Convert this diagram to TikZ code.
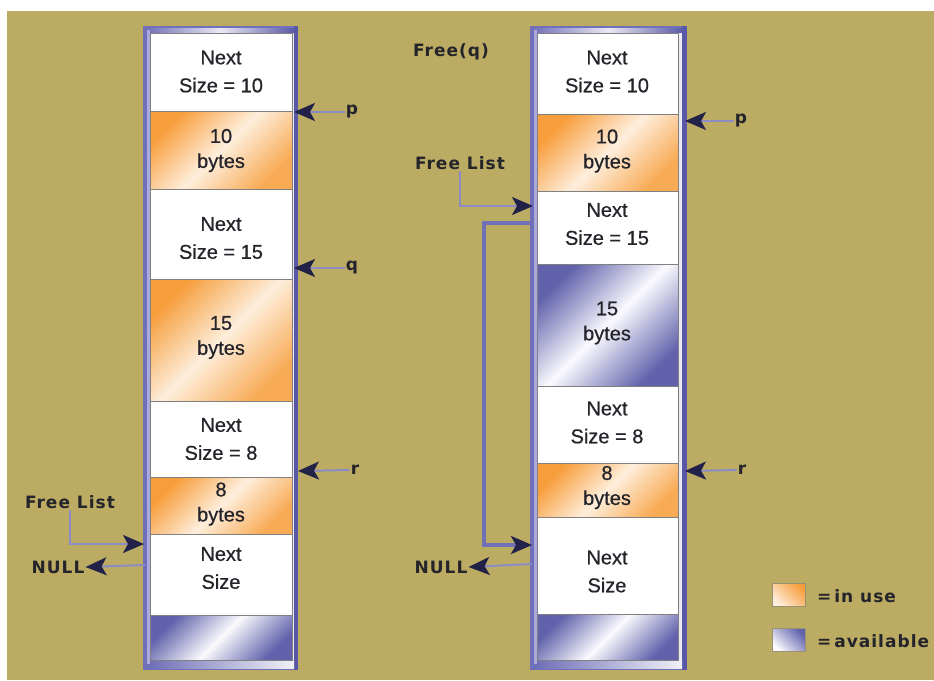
\documentclass[tikz,border=0pt]{standalone}
\usepackage{fontspec}
\setmainfont{Liberation Sans}
\newfontfamily\cellfam{Liberation Sans}[FakeBold=0.6]
\newfontfamily\lblfam{DejaVu Sans}[LetterSpace=6]
\usetikzlibrary{arrows.meta}
\newcommand\celltxt{\cellfam\fontsize{20}{28}\selectfont}
\newcommand\bytestxt{\cellfam\fontsize{20}{25}\selectfont}
\newcommand\lbltxt{\lblfam\bfseries\fontsize{17}{20}\selectfont}
\newcommand\legtxt{\lblfam\bfseries\fontsize{17}{20}\selectfont}
\definecolor{bg}{RGB}{187,171,99}
\definecolor{frameC}{RGB}{112,112,184}
\definecolor{frameD}{RGB}{88,88,166}
\definecolor{frameL}{RGB}{170,170,220}
\definecolor{orangeD}{RGB}{247,158,60}
\definecolor{orangeL}{RGB}{254,238,220}
\definecolor{purpD}{RGB}{98,98,172}
\definecolor{purpL}{RGB}{250,250,254}
\definecolor{ink}{RGB}{36,36,42}
\definecolor{arrowC}{RGB}{34,34,72}
\definecolor{shaftC}{RGB}{140,140,196}
\definecolor{sepC}{RGB}{128,128,128}
\tikzset{
  cellbox/.style={draw=sepC, line width=0.8pt, inner sep=0pt, outer sep=0pt, anchor=north west},
  freecell/.style={cellbox, fill=white},
  usedcell/.style={cellbox, left color=orangeD, right color=orangeD!85!orangeL, middle color=orangeL, shading angle=45},
  availcell/.style={cellbox, left color=purpD, right color=purpD, middle color=purpL, shading angle=45},
  celltext/.style={font=\celltxt, text=ink, align=center, inner sep=0pt},
  bytestext/.style={font=\bytestxt, text=ink, align=center, inner sep=0pt},
  lbl/.style={font=\lbltxt, text=ink, inner sep=1pt},
  ptr/.style={draw=shaftC, line width=2pt, -{Stealth[length=21pt,width=18pt,inset=5pt,color=arrowC]}},
  loopline/.style={draw=frameC, line width=3.5pt, -{Stealth[length=21pt,width=18pt,inset=5pt,color=arrowC]}},
  framebox/.style={fill=frameC, inner sep=0pt, outer sep=0pt, anchor=north west},
  legendsq/.style={draw=sepC!60!bg, line width=0.6pt, inner sep=0pt, anchor=north west, minimum width=33pt, minimum height=23pt}
}
\begin{document}
\begin{tikzpicture}[x=1pt,y=-1pt]
\useasboundingbox (0,0) rectangle (934,680);
\fill[white] (0,0) rectangle (934,680);
\fill[bg] (7,11) rectangle (934,680);

% ---------- left column frame ----------
\node[framebox, minimum width=155pt, minimum height=644pt] (frameA) at (143,26) {};
\shade[left color=frameC, right color=frameD, middle color=white!85!frameC] (146,28) rectangle (295,33);
\fill[frameL] (147,30) rectangle (150,664);
\fill[frameD] (294,26) rectangle (298,670);
\fill[white!85!frameC] (292,33) rectangle (294,662);
\shade[left color=frameC, right color=white!90!frameC] (150,661) rectangle (294,668);

\node[freecell,  minimum width=142pt, minimum height=78pt]  (L1) at (150,33) {};
\node[usedcell,  minimum width=142pt, minimum height=78pt]  (L2) at (150,111) {};
\node[freecell,  minimum width=142pt, minimum height=90pt]  (L3) at (150,189) {};
\node[usedcell,  minimum width=142pt, minimum height=122pt] (L4) at (150,279) {};
\node[freecell,  minimum width=142pt, minimum height=76pt]  (L5) at (150,401) {};
\node[usedcell,  minimum width=142pt, minimum height=57pt]  (L6) at (150,477) {};
\node[freecell,  minimum width=142pt, minimum height=81pt]  (L7) at (150,534) {};
\node[availcell, minimum width=142pt, minimum height=45pt]  (L8) at (150,615) {};

\node[celltext]  (tL1) at (221,71.5) {Next\\Size = 10};
\node[bytestext] (tL2) at (221,150.5) {10\\bytes};
\node[celltext]  (tL3) at (221,238) {Next\\Size = 15};
\node[bytestext] (tL4) at (221,337.5) {15\\bytes};
\node[celltext]  (tL5) at (221,439) {Next\\Size = 8};
\node[bytestext] (tL6) at (221,504) {8\\bytes};
\node[celltext]  (tL7) at (221,568) {Next\\Size};

% ---------- right column frame ----------
\node[framebox, minimum width=157pt, minimum height=644pt] (frameB) at (530,26) {};
\shade[left color=frameC, right color=frameD, middle color=white!85!frameC] (533,28) rectangle (684,33);
\fill[frameL] (534,30) rectangle (537,664);
\fill[frameD] (682,26) rectangle (687,670);
\fill[white!85!frameC] (678,33) rectangle (682,662);
\shade[left color=frameC, right color=white!90!frameC] (537,661) rectangle (682,668);

\node[freecell,  minimum width=141pt, minimum height=81pt]  (R1) at (537,33) {};
\node[usedcell,  minimum width=141pt, minimum height=77pt]  (R2) at (537,114) {};
\node[freecell,  minimum width=141pt, minimum height=73pt]  (R3) at (537,191) {};
\node[availcell, minimum width=141pt, minimum height=122pt] (R4) at (537,264) {};
\node[freecell,  minimum width=141pt, minimum height=77pt]  (R5) at (537,386) {};
\node[usedcell,  minimum width=141pt, minimum height=54pt]  (R6) at (537,463) {};
\node[freecell,  minimum width=141pt, minimum height=97pt]  (R7) at (537,517) {};
\node[availcell, minimum width=141pt, minimum height=46pt]  (R8) at (537,614) {};

\node[celltext]  (tR1) at (607,71.5) {Next\\Size = 10};
\node[bytestext] (tR2) at (607,151) {10\\bytes};
\node[celltext]  (tR3) at (607,224) {Next\\Size = 15};
\node[bytestext] (tR4) at (607,323) {15\\bytes};
\node[celltext]  (tR5) at (607,422.5) {Next\\Size = 8};
\node[bytestext] (tR6) at (607,487.5) {8\\bytes};
\node[celltext]  (tR7) at (607,571.5) {Next\\Size};

% ---------- pointers, left ----------
\node[lbl] (pA) at (352,112) {p};
\node[lbl] (qA) at (352,268) {q};
\node[lbl] (rA) at (355,470) {r};
\coordinate (pAt) at (294,112);
\coordinate (qAt) at (294,268);
\coordinate (rAt) at (298,471);
\draw[ptr] (pA.west) -- (pAt);
\draw[ptr] (qA.west) -- (qAt);
\draw[ptr] (rA.west) -- (rAt);

\node[lbl] (flA) at (70,502) {Free List};
\coordinate (flAt) at (144,544);
\draw[ptr] (flA.south) |- (flAt);
\node[lbl] (nullA) at (58,567) {NULL};
\coordinate (nullAs) at (145,565);
\draw[ptr] (nullAs) -- (nullA.east);

% ---------- pointers, right ----------
\node[lbl] (freeq) at (451,52) {Free(q)};
\node[lbl] (pB) at (741,121) {p};
\node[lbl] (rB) at (742,470) {r};
\coordinate (pBt) at (685,121);
\coordinate (rBt) at (685,471);
\draw[ptr] (pB.west) -- (pBt);
\draw[ptr] (rB.west) -- (rBt);

\node[lbl] (flB) at (460,163) {Free List};
\coordinate (flBt) at (533,206);
\draw[ptr] (flB.south) |- (flBt);

\coordinate (loopS) at (531,223);
\coordinate (loopA) at (484,223);
\coordinate (loopT) at (532,545);
\draw[loopline] (loopS) -- (loopA) |- (loopT);

\node[lbl] (nullB) at (441,567) {NULL};
\coordinate (nullBs) at (532,564);
\draw[ptr] (nullBs) -- (nullB.east);

% ---------- legend ----------
\node[legendsq, left color=orangeL, right color=orangeD, shading angle=135] (legU) at (772,583) {};
\node[anchor=west, font=\legtxt, text=ink, inner sep=1pt] (legUt) at (816,596) {=\,in use};
\node[legendsq, left color=purpL, right color=purpD, shading angle=135] (legA) at (772,628) {};
\node[anchor=west, font=\legtxt, text=ink, inner sep=1pt] (legAt) at (816,641) {=\,available};
\end{tikzpicture}
\end{document}
